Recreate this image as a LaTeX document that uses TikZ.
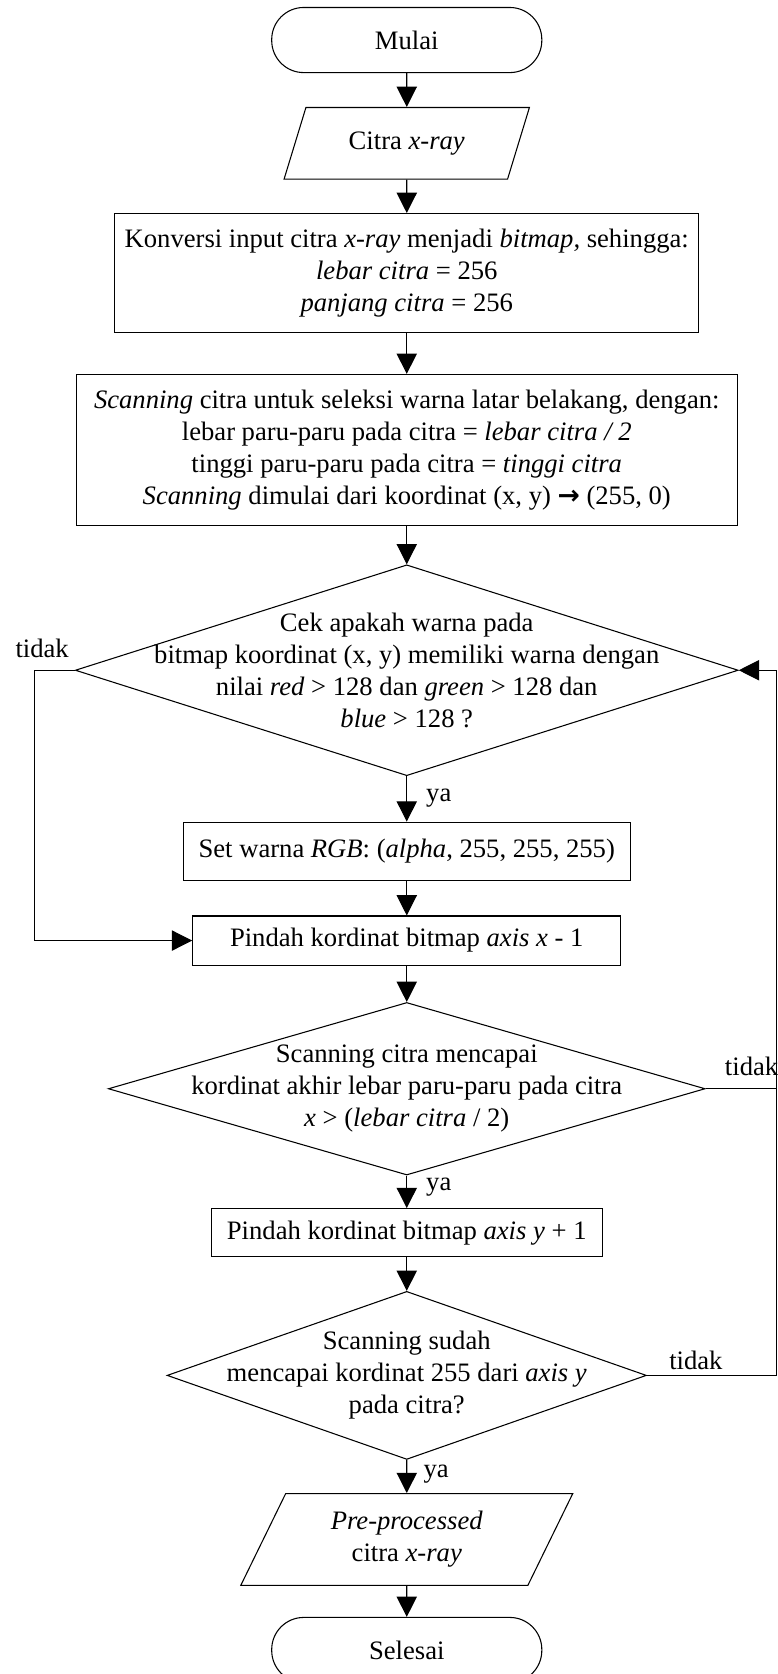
\documentclass[tikz,border=0pt]{standalone}
\usepackage{fontspec}
\setmainfont{Liberation Serif}
\newfontfamily\arrowfont{DejaVu Sans}
\usetikzlibrary{shapes.geometric,arrows.meta}
\begin{document}
\begin{tikzpicture}[x=1pt,y=-1pt,
  every node/.style={font=\fontsize{24.94pt}{30pt}\selectfont},
  base/.style={draw, line width=1pt, inner sep=0pt, align=center},
  term/.style={base, rectangle, rounded corners=30pt, minimum width=253pt, minimum height=61pt},
  proc/.style={base, rectangle},
  io/.style={base, trapezium, trapezium stretches=true},
  dec/.style={base, diamond},
  txt/.style={align=center, inner sep=0pt},
  lbl/.style={inner sep=0pt},
  arr/.style={line width=1pt, -{Triangle[length=19pt,width=19pt]}},
  ln/.style={line width=1pt}
]
\useasboundingbox (0,0) rectangle (728,1568);
\clip (0,0) rectangle (728,1568);

\node[term] (start) at (381,37.5) {Mulai};
\node[io, trapezium left angle=61.75, trapezium right angle=118.25, minimum width=230pt, minimum height=67pt] (in) at (381,134.2) {Citra \textit{x-ray}};
\node[proc, minimum width=547pt, minimum height=111.4pt] (p1) at (381,255.7) {Konversi input citra \textit{x-ray} menjadi \textit{bitmap,} sehingga:\\ \textit{lebar citra} = 256\\ \textit{panjang citra} = 256};
\node[proc, minimum width=619pt, minimum height=141.6pt] (p2) at (381,421.5) {\textit{Scanning} citra untuk seleksi warna latar belakang, dengan:\\ lebar paru-paru pada citra = \textit{lebar citra / 2}\\ tinggi paru-paru pada citra = \textit{tinggi citra}\\ \textit{Scanning} dimulai dari koordinat (x, y) {\arrowfont\bfseries →} (255, 0)};
\node[dec, minimum width=621pt, minimum height=197.5pt] (d1) at (381,627.8) {};
\node[txt] (d1t) at (d1.center) {Cek apakah warna pada\\ bitmap koordinat (x, y) memiliki warna dengan\\ nilai \textit{red} > 128 dan \textit{green} > 128 dan\\ \textit{blue} > 128 ?};
\node[proc, minimum width=419pt, minimum height=54.5pt] (p3) at (381,797.3) {Set warna \textit{RGB}: (\textit{alpha}, 255, 255, 255)};
\node[proc, minimum width=401pt, minimum height=46pt] (p4) at (381,881) {Pindah kordinat bitmap \textit{axis x} - 1};
\node[dec, minimum width=559pt, minimum height=161.6pt] (d2) at (381,1019.8) {};
\node[txt] (d2t) at (d2.center) {Scanning citra mencapai\\ kordinat akhir lebar paru-paru pada citra\\ \textit{x} > (\textit{lebar citra} / 2)};
\node[proc, minimum width=366.4pt, minimum height=45.3pt] (p5) at (381,1154.7) {Pindah kordinat bitmap \textit{axis y} + 1};
\node[dec, minimum width=449pt, minimum height=157.4pt] (d3) at (381,1288.3) {};
\node[txt] (d3t) at (d3.center) {Scanning sudah\\ mencapai kordinat 255 dari \textit{axis y}\\ pada citra?};
\node[io, trapezium left angle=63.4, trapezium right angle=116.6, minimum width=311pt, minimum height=86pt] (out) at (381,1442) {\textit{Pre-processed}\\ citra \textit{x-ray}};
\node[term] (end) at (381,1545.5) {Selesai};

\node[lbl] (ya1) at (411,748) {ya};
\node[lbl] (ya2) at (411,1112) {ya};
\node[lbl] (ya3) at (408.5,1381) {ya};
\node[lbl] (t1) at (39.5,607.7) {tidak};
\node[lbl] (t2) at (704,999) {tidak};
\node[lbl] (t3) at (651.8,1274.7) {tidak};

\coordinate (rx) at (727,0);
\coordinate (lx) at (32.5,0);

\draw[arr] (start) -- (in);
\draw[arr] (in) -- (p1);
\draw[arr] (p1) -- (p2);
\draw[arr] (p2) -- (d1);
\draw[arr] (d1) -- (p3);
\draw[arr] (p3) -- (p4);
\draw[arr] (d1.west) -- (d1.west -| lx) |- (p4.west);
\draw[arr] (p4) -- (d2);
\draw[arr] (d2) -- (p5);
\draw[ln] (d2.east) -- (d2.east -| rx);
\draw[arr] (p5) -- (d3);
\draw[arr] (d3.east) -- (d3.east -| rx) |- (d1.east);
\draw[arr] (d3) -- (out);
\draw[arr] (out) -- (end);
\end{tikzpicture}
\end{document}
